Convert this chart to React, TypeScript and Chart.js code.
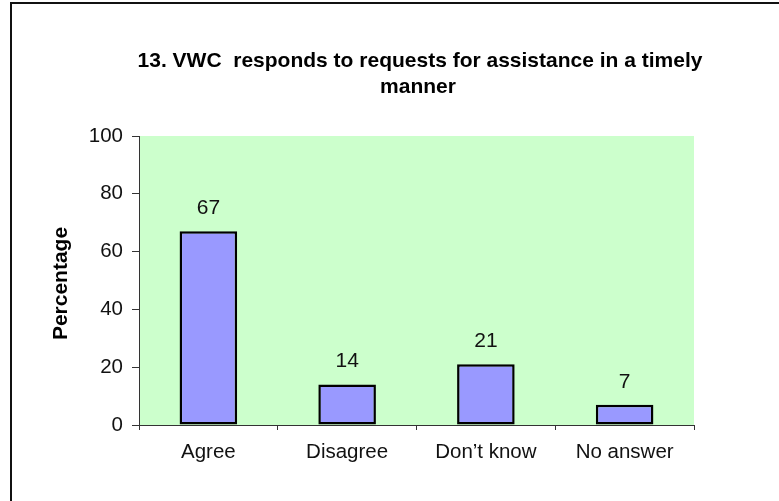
import React, { useEffect, useRef } from "react";
import { Chart, registerables } from "chart.js";

Chart.register(...registerables);

const categories = ["Agree", "Disagree", "Don\u2019t know", "No answer"];
const percentages = [67, 14, 21, 7];
const yTicks = [0, 20, 40, 60, 80, 100];
const titleLines = ["13. VWC  responds to requests for assistance in a timely", "manner"];
const yAxisTitle = "Percentage";

const FONT = "'Liberation Sans', Arial, sans-serif";
const TEXT = "#111111";

const decorPlugin = {
  id: "decor",
  beforeDraw(chart: any) {
    const { ctx, chartArea } = chart;
    ctx.save();
    ctx.fillStyle = "#ffffff";
    ctx.fillRect(0, 0, chart.width, chart.height);
    ctx.fillStyle = "#CCFFCC";
    ctx.fillRect(chartArea.left, chartArea.top, chartArea.right - chartArea.left, chartArea.bottom - chartArea.top);
    ctx.strokeStyle = "#111";
    ctx.lineWidth = 2;
    ctx.strokeRect(11, 3, 900, 700);
    ctx.restore();
  },
  afterDraw(chart: any) {
    const { ctx, chartArea } = chart;
    ctx.save();
    ctx.fillStyle = "#000";
    ctx.textAlign = "center";
    ctx.textBaseline = "middle";
    ctx.font = `bold 21px ${FONT}`;
    ctx.fillText(titleLines[0], 420, 61);
    ctx.fillText(titleLines[1], 418, 87);
    ctx.translate(61, (chartArea.top + chartArea.bottom) / 2 + 3);
    ctx.rotate(-Math.PI / 2);
    ctx.font = `bold 21px ${FONT}`;
    ctx.fillText(yAxisTitle, 0, 0);
    ctx.restore();

    ctx.save();
    ctx.fillStyle = TEXT;
    ctx.textAlign = "center";
    ctx.textBaseline = "middle";
    ctx.font = `21px ${FONT}`;
    const meta = chart.getDatasetMeta(0);
    meta.data.forEach((bar: any, i: number) => {
      ctx.fillText(String(percentages[i]), bar.x, bar.y - 23);
    });
    ctx.restore();
  },
};

export default function App() {
  const ref = useRef<HTMLCanvasElement>(null);
  useEffect(() => {
    if (!ref.current) return;
    const chart = new Chart(ref.current, {
      type: "bar",
      data: {
        labels: categories,
        datasets: [
          {
            data: percentages,
            backgroundColor: "#9999FF",
            borderColor: "#000000",
            borderWidth: 2.5,
            borderSkipped: false,
            barPercentage: 0.415,
            categoryPercentage: 1,
          },
        ],
      },
      options: {
        responsive: false,
        animation: false,
        devicePixelRatio: 1,
        layout: { padding: { top: 136, right: 85, left: 0, bottom: 0 } },
        plugins: { legend: { display: false }, tooltip: { enabled: false }, title: { display: false } },
        scales: {
          x: {
            offset: true,
            grid: { offset: true, drawOnChartArea: false, drawTicks: true, tickLength: 5, color: "#333" },
            border: { display: true, color: "#333", width: 1 },
            ticks: { color: TEXT, font: { family: FONT, size: 20.5 }, padding: 10, maxRotation: 0 },
            afterFit: (s: any) => {
              s.height = 76;
            },
          },
          y: {
            min: 0,
            max: 100,
            afterBuildTicks: (s: any) => {
              s.ticks = yTicks.map((v) => ({ value: v }));
            },
            grid: { drawOnChartArea: false, drawTicks: true, tickLength: 7, color: "#333" },
            border: { display: true, color: "#333", width: 1 },
            ticks: { color: TEXT, font: { family: FONT, size: 20.5 }, padding: 9 },
            afterFit: (s: any) => {
              s.width = 139;
            },
          },
        },
      },
      plugins: [decorPlugin],
    });
    return () => chart.destroy();
  }, []);
  return (
    <canvas
      ref={ref}
      width={779}
      height={501}
      style={{ position: "fixed", left: 0, top: 0, width: 779, height: 501 }}
    />
  );
}
